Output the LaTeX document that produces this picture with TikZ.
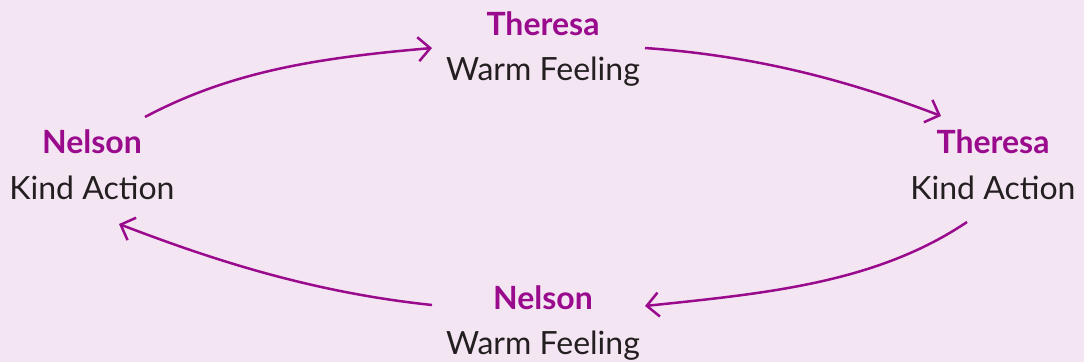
\documentclass[tikz,border=0pt]{standalone}
\usepackage{fontspec}
\setmainfont{Lato}
\usepackage{tikz}
\usepackage{xcolor}
\usetikzlibrary{arrows.meta}
\usetikzlibrary{calc}
\usetikzlibrary{positioning}

\definecolor{bgpink}{HTML}{F4E5F3}
\definecolor{plum}{HTML}{990A8C}
\definecolor{ink}{HTML}{231F20}

\tikzset{
  who/.style={anchor=base, inner sep=0pt, text=plum, font=\fontsize{32}{38}\selectfont\bfseries},
  what/.style={anchor=base, inner sep=0pt, text=ink, font=\fontsize{32}{38}\selectfont},
  flow/.style={draw=plum, line width=2.5pt, ->}
}

\begin{document}
\begin{tikzpicture}[x=1pt, y=-1pt, >={Straight Barb[length=12pt,width=24pt]}]
%background
\fill[bgpink] (0,0) rectangle (1084,362);

%states
\node[who]  (theresaT) at (543,35)  {Theresa};
\node[what] (warmT)    at (543,80)  {Warm Feeling};
\node[who]  (theresaR) at (993,153) {Theresa};
\node[what] (kindR)    at (993,199) {Kind Action};
\node[who]  (nelsonB)  at (543,309) {Nelson};
\node[what] (warmB)    at (543,354) {Warm Feeling};
\node[who]  (nelsonL)  at (92,153)  {Nelson};
\node[what] (kindL)    at (92,199)  {Kind Action};

%cycle
\coordinate (a1) at ($(nelsonL.base)+(53,-36)$);
\coordinate (b1) at ($(warmT.base)+(-111,-32)$);
\draw[flow] (a1) .. controls +(-28:100) and +(175:110) .. (b1);

\coordinate (a2) at ($(warmT.base)+(102,-32)$);
\coordinate (b2) at ($(theresaR.base)+(-52,-37)$);
\draw[flow] (a2) .. controls +(4:110) and +(201:100) .. (b2);

\coordinate (a3) at ($(kindR.base)+(-26,23)$);
\coordinate (b3) at ($(nelsonB.base)+(102,-3)$);
\draw[flow] (a3) .. controls +(146:110) and +(-6:120) .. (b3);

\coordinate (a4) at ($(nelsonB.base)+(-111,-4)$);
\coordinate (b4) at ($(kindL.base)+(27,25)$);
\draw[flow] (a4) .. controls +(186:120) and +(21:100) .. (b4);
\end{tikzpicture}
\end{document}
